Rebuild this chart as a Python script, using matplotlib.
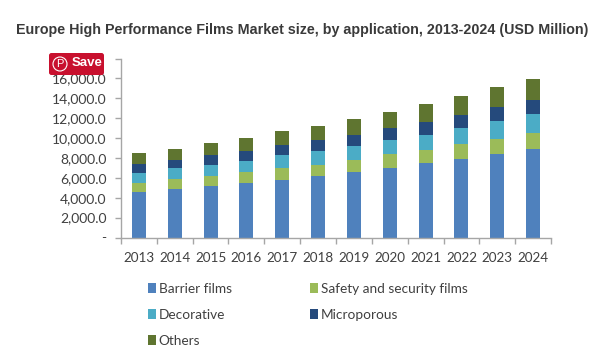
import matplotlib
matplotlib.use('Agg')
import matplotlib.pyplot as plt
from matplotlib.patches import FancyBboxPatch, Circle
import numpy as np

years = ['2013', '2014', '2015', '2016', '2017', '2018', '2019', '2020', '2021', '2022', '2023', '2024']
barrier = [4600, 4830, 5170, 5500, 5805, 6140, 6545, 7010, 7450, 7920, 8355, 8890]
safety = [870, 1010, 1005, 1080, 1145, 1175, 1205, 1345, 1340, 1440, 1545, 1645]
decorative = [1040, 1110, 1075, 1105, 1305, 1345, 1480, 1445, 1545, 1640, 1780, 1915]
microporous = [870, 835, 1005, 1040, 1005, 1105, 1070, 1170, 1305, 1315, 1410, 1410]
others = [1110, 1140, 1205, 1305, 1440, 1475, 1580, 1680, 1780, 1875, 2010, 2110]

series = [('Barrier films', barrier, '#4f81bd'),
          ('Safety and security films', safety, '#9bbb59'),
          ('Decorative', decorative, '#4bacc6'),
          ('Microporous', microporous, '#254a7c'),
          ('Others', others, '#5f7530')]
yticks = [0, 2000, 4000, 6000, 8000, 10000, 12000, 14000, 16000, 18000]
ylabels = ['-', '2,000.0', '4,000.0', '6,000.0', '8,000.0', '10,000.0', '12,000.0', '14,000.0', '16,000.0', '']

text_col = '#404040'
axis_col = '#a6a6a6'
plt.rcParams['font.family'] = ['Lato', 'DejaVu Sans']

fig = plt.figure(figsize=(6.1, 3.61), dpi=100)
ax = fig.add_axes([121 / 610, (361 - 237.5) / 361, 430 / 610, 179 / 361])

x = np.arange(len(years))
bottom = np.zeros(len(years))
for name, vals, col in series:
    ax.bar(x, vals, width=0.39, bottom=bottom, color=col, label=name)
    bottom += np.array(vals)

ax.set_xlim(-0.5, 11.5)
ax.set_ylim(0, 18000)
ax.set_yticks(yticks)
ax.set_yticklabels(ylabels, fontsize=10, color=text_col)
# ticks sit between the bars, labels under the bars
ax.set_xticks(np.arange(-0.5, 12, 1))
ax.set_xticklabels([])
ax.set_xticks(x, minor=True)
ax.set_xticklabels(years, minor=True, fontsize=9.7, color=text_col)
ax.tick_params(axis='x', which='major', length=4, color=axis_col, width=1, direction='out')
ax.tick_params(axis='x', which='minor', length=0, pad=10.5)
ax.tick_params(axis='y', length=4, color=axis_col, width=1, pad=6.5)
for s in ['top', 'right']:
    ax.spines[s].set_visible(False)
for s in ['left', 'bottom']:
    ax.spines[s].set_color(axis_col)
    ax.spines[s].set_linewidth(1)

fig.text(302.5 / 610, 1 - 30 / 361, 'Europe High Performance Films Market size, by application, 2013-2024 (USD Million)',
         ha='center', va='center', fontsize=10.3, fontweight='bold', family='Liberation Sans', color='#3a3a3a')

# legend goes column by column
order = [0, 2, 4, 1, 3]
handles, labels = ax.get_legend_handles_labels()
fig.legend([handles[i] for i in order], [labels[i] for i in order], ncols=2, frameon=False,
           loc='upper left', bbox_to_anchor=(136 / 610, 1 - 270.5 / 361), fontsize=9.8,
           labelcolor=text_col, handlelength=0.55, handleheight=0.75, handletextpad=0.23,
           labelspacing=1.02, columnspacing=5.75, borderpad=0.4)

# pinterest save button
bg = fig.add_axes([0, 0, 1, 1], facecolor='none')
bg.set_xlim(0, 610)
bg.set_ylim(361, 0)
bg.axis('off')
bg.add_patch(FancyBboxPatch((49, 53), 55, 22, boxstyle='round,pad=0,rounding_size=2.5',
                            fc='#c8102e', ec='none'))
bg.add_patch(Circle((60, 64), 7, fc='none', ec='white', lw=0.8))
bg.text(60, 64.3, 'P', color='white', fontsize=8, ha='center', va='center', family='Liberation Sans')
bg.text(72, 63.5, 'Save', color='white', fontsize=9.5, fontweight='bold', ha='left', va='center',
        family='Liberation Sans')

fig.savefig('out.png', dpi=100)
